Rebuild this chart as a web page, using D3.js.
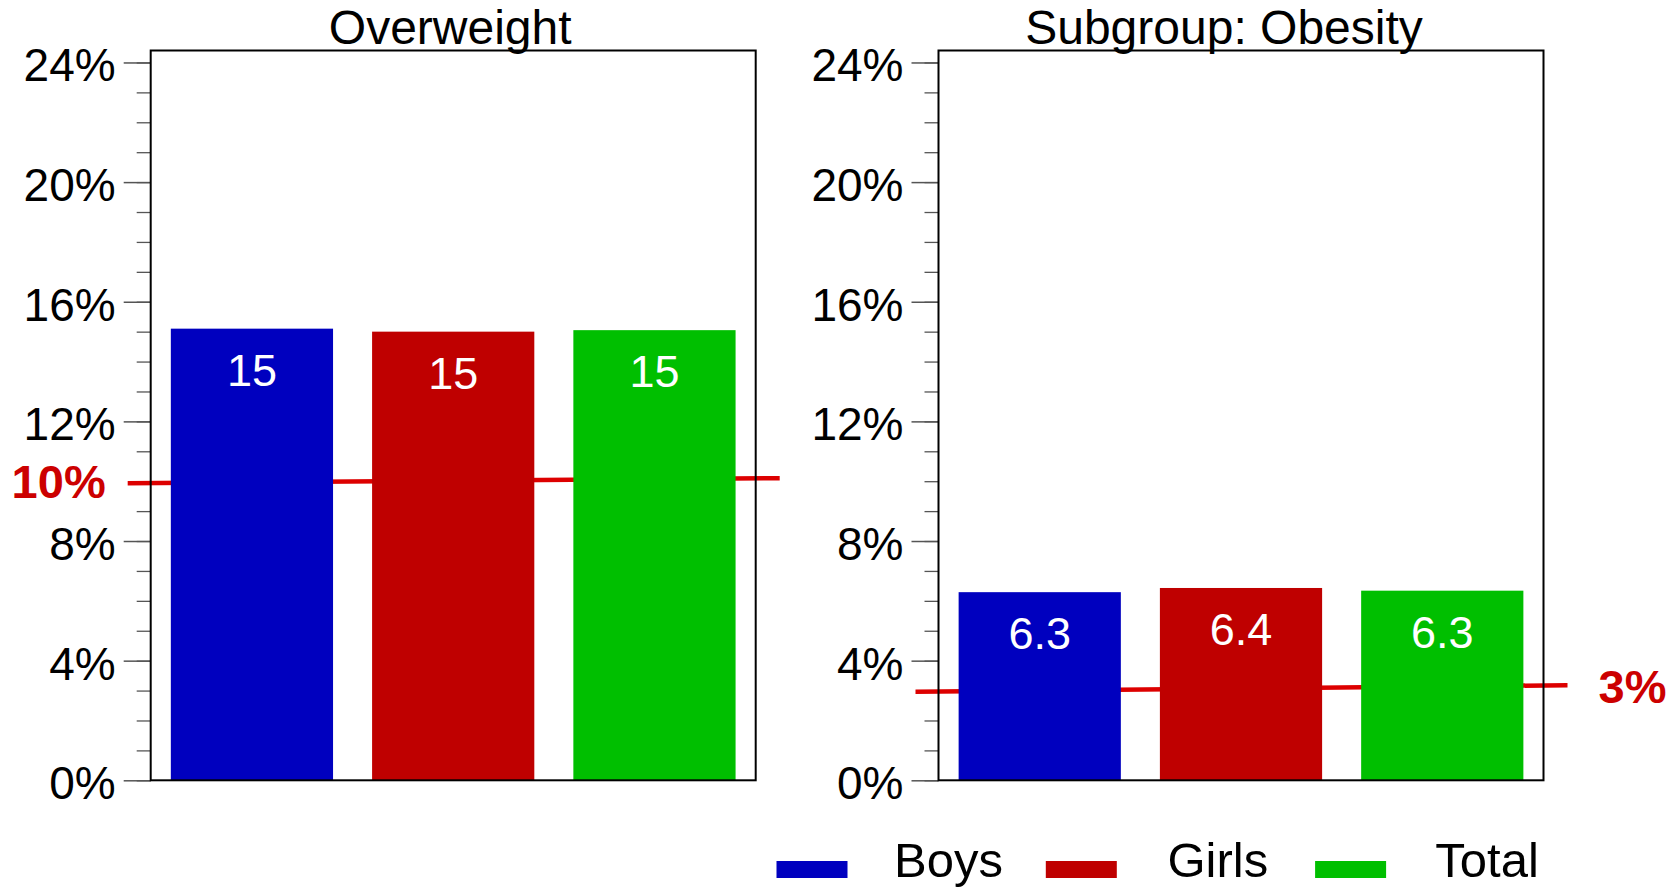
<!DOCTYPE html>
<html>
<head>
<meta charset="utf-8">
<script src="https://cdn.jsdelivr.net/npm/d3@7"></script>
<style>
  body { margin: 0; background: #fff; }
  svg { display: block; font-family: "Liberation Sans", Arial, sans-serif; }
</style>
</head>
<body>
<script>
// Data
const groups = ["Boys", "Girls", "Total"];
const colors = ["#0000bf", "#bf0000", "#00bf00"];
const panelTitles = ["Overweight", "Subgroup: Obesity"];
const overweightValues = [15.1, 15.0, 15.05];
const obesityValues = [6.29, 6.43, 6.34];
const yTicks = [0, 4, 8, 12, 16, 20, 24];
const refLabels = ["10%", "3%"];
// reference line ends (start, end)
const refOverweight = [9.93, 10.1];
const refObesity = [2.96, 3.18];

const W = 1676, H = 888;
const panelW = 605;
const panelX = [150.7, 938.5];
const plotTop = 50.5, plotBottom = 780.3;

const svg = d3.select("body").append("svg")
  .attr("width", W)
  .attr("height", H);

const y = d3.scaleLinear().domain([0, 24.4]).range([plotBottom, plotTop]);
const fmt = d3.format(".2~r");

const panels = [
  { title: panelTitles[0], values: overweightValues, ref: refOverweight, label: refLabels[0], labelSide: "left", titleShift: -3 },
  { title: panelTitles[1], values: obesityValues, ref: refObesity, label: refLabels[1], labelSide: "right", titleShift: -17 }
];

panels.forEach(function(p, i) {
  const x0 = panelX[i];
  const g = svg.append("g");

  const x = d3.scaleBand()
    .domain(groups)
    .range([x0, x0 + panelW])
    .paddingInner(0.194)
    .paddingOuter(0.1);

  // minor ticks every 1%
  const minor = d3.axisLeft(y).tickValues(d3.range(0, 25, 1)).tickSize(14).tickFormat("");
  g.append("g")
    .attr("transform", "translate(" + x0 + ",0)")
    .call(minor)
    .call(function(a) { a.select(".domain").remove(); a.selectAll("line").attr("stroke", "#555").attr("stroke-width", 1.3); });

  // major ticks with labels
  const major = d3.axisLeft(y).tickValues(yTicks).tickSize(27).tickPadding(8)
    .tickFormat(function(d) { return d + "%"; });
  g.append("g")
    .attr("transform", "translate(" + x0 + ",0)")
    .call(major)
    .call(function(a) {
      a.select(".domain").remove();
      a.selectAll("line").attr("stroke", "#555").attr("stroke-width", 1.5);
      a.selectAll("text")
        .attr("font-size", 46)
        .attr("font-family", "Liberation Sans, Arial, sans-serif")
        .attr("fill", "#000")
        .attr("dy", "0.4em");
    });

  // reference line (behind bars)
  const lx1 = x0 - 23, lx2 = x0 + panelW + 24;
  g.append("line")
    .attr("x1", lx1).attr("x2", lx2)
    .attr("y1", y(p.ref[0])).attr("y2", y(p.ref[1]))
    .attr("stroke", "#dd0000")
    .attr("stroke-width", 4.5);

  if (p.labelSide === "left") {
    g.append("text")
      .attr("x", lx1 - 22)
      .attr("y", y(p.ref[0]) + 15)
      .attr("text-anchor", "end")
      .attr("font-size", 47)
      .attr("font-weight", "bold")
      .attr("fill", "#cc0000")
      .text(p.label);
  } else {
    g.append("text")
      .attr("x", lx2 + 31)
      .attr("y", y(p.ref[1]) + 18)
      .attr("text-anchor", "start")
      .attr("font-size", 47)
      .attr("font-weight", "bold")
      .attr("fill", "#cc0000")
      .text(p.label);
  }

  // bars
  g.selectAll(".bar")
    .data(p.values)
    .enter().append("rect")
    .attr("class", "bar")
    .attr("x", function(d, j) { return x(groups[j]); })
    .attr("width", x.bandwidth())
    .attr("y", function(d) { return y(d); })
    .attr("height", function(d) { return y(0) - y(d); })
    .attr("fill", function(d, j) { return colors[j]; });

  // bar labels
  g.selectAll(".barlabel")
    .data(p.values)
    .enter().append("text")
    .attr("class", "barlabel")
    .attr("x", function(d, j) { return x(groups[j]) + x.bandwidth() / 2; })
    .attr("y", function(d) { return y(d) + 57; })
    .attr("text-anchor", "middle")
    .attr("font-size", 45)
    .attr("fill", "#fff")
    .text(function(d) { return fmt(d); });

  // frame
  g.append("rect")
    .attr("x", x0).attr("y", plotTop)
    .attr("width", panelW).attr("height", plotBottom - plotTop)
    .attr("fill", "none")
    .attr("stroke", "#000")
    .attr("stroke-width", 2);

  // title
  g.append("text")
    .attr("x", x0 + panelW / 2 + p.titleShift)
    .attr("y", 44)
    .attr("text-anchor", "middle")
    .attr("font-size", 48)
    .attr("fill", "#000")
    .text(p.title);
});

// Legend
const legend = svg.selectAll(".legend")
  .data(groups)
  .enter().append("g")
  .attr("class", "legend")
  .attr("transform", function(d, i) { return "translate(" + (776.5 + i * 269.3) + ",0)"; });

legend.append("rect")
  .attr("x", 0).attr("y", 861)
  .attr("width", 71).attr("height", 17)
  .attr("fill", function(d, i) { return colors[i]; });

legend.append("text")
  .attr("x", 172).attr("y", 877)
  .attr("text-anchor", "middle")
  .attr("font-size", 49)
  .attr("fill", "#000")
  .text(function(d) { return d; });
</script>
</body>
</html>
